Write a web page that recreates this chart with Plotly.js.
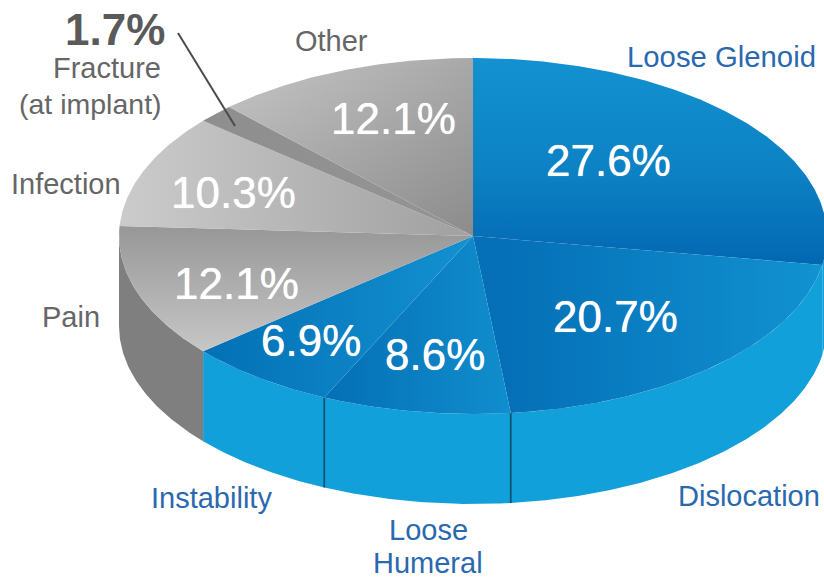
<!DOCTYPE html>
<html>
<head>
<meta charset="utf-8">
<title>Reasons for revision</title>
<script src="https://cdn.plot.ly/plotly-3.0.1.min.js"></script>
<style>html,body{margin:0;padding:0;background:#fff;overflow:hidden}</style>
</head>
<body>
<div id="chart" style="width:824px;height:578px"></div>
<script>
// Share of revisions per cause, clockwise from twelve o'clock
const causes = ["Loose Glenoid", "Dislocation", "Loose Humeral", "Instability", "Pain", "Infection", "Fracture (at implant)", "Other"];
const shares = [27.6, 20.7, 8.6, 6.9, 12.1, 10.3, 1.7, 12.1];

// Tilted disc geometry in page units
const disc = {cx: 473, cy: 236, rx: 354, ry: 178, depth: 90};

const BLUE_WALL = "#12a0da", GREY_WALL = "#7f7f7f";
const wallColors = [BLUE_WALL, BLUE_WALL, BLUE_WALL, BLUE_WALL, GREY_WALL, GREY_WALL, GREY_WALL, GREY_WALL];
const wallSeams = ["Dislocation", "Loose Humeral"];

// Surface shading for each slice
const shading = [
  {type: "vertical", start: 58, stop: 262, colorscale: [[0, "#1391d0"], [0.55, "#0c82c4"], [1, "#0368b2"]]},
  {type: "horizontal", start: 510, stop: 822, colorscale: [[0, "#0570b7"], [1, "#1192d1"]]},
  {type: "horizontal", start: 325, stop: 512, colorscale: [[0, "#056fb6"], [1, "#108ecd"]]},
  {type: "horizontal", start: 203, stop: 473, colorscale: [[0, "#0370b6"], [1, "#1391d0"]]},
  {type: "vertical", start: 226, stop: 350, colorscale: [[0, "#979797"], [1, "#c6c6c6"]]},
  {type: "horizontal", start: 120, stop: 473, colorscale: [[0, "#cbcbcb"], [1, "#a0a0a0"]]},
  {type: "horizontal", start: 205, stop: 473, colorscale: [[0, "#8e8e8e"], [1, "#959595"]]},
  {type: "horizontal", start: 226, stop: 473, colorscale: [[0, "#c6c6c6"], [1, "#a8a8a8"]]}
];
// Extra darkening toward the hub on the last slice
const otherFalloff = {type: "vertical", start: 60, stop: 236, colorscale: [[0, "rgba(0,0,0,0)"], [1, "rgba(0,0,0,0.17)"]]};

const toAngle = s => s / 100 * 2 * Math.PI;
const rimX = a => disc.cx + disc.rx * Math.sin(a);
const rimY = a => disc.cy - disc.ry * Math.cos(a);

function arc(a0, a1) {
  const n = Math.max(2, Math.ceil(Math.abs(a1 - a0) / 0.01));
  const pts = [];
  for (let i = 0; i <= n; i++) pts.push(a0 + (a1 - a0) * i / n);
  return pts;
}

const traces = [];
const edges = [];
let running = 0;
shares.forEach(s => { edges.push([running, running + s]); running += s; });

// Outer wall: only the front half of the rim faces the viewer
edges.forEach((e, i) => {
  const a0 = Math.max(toAngle(e[0]), Math.PI / 2);
  const a1 = Math.min(toAngle(e[1]), Math.PI * 1.5);
  if (a1 <= a0) return;
  const top = arc(a0, a1), bottom = arc(a1, a0);
  traces.push({
    type: "scatter", mode: "lines", name: causes[i] + " wall", hoverinfo: "skip",
    x: top.map(rimX).concat(bottom.map(rimX)),
    y: top.map(rimY).concat(bottom.map(a => rimY(a) + disc.depth)),
    fill: "toself", fillcolor: wallColors[i], line: {width: 0}
  });
});

// Seams between neighbouring wall segments
edges.forEach((e, i) => {
  if (!wallSeams.includes(causes[i])) return;
  const a = toAngle(e[1]);
  traces.push({
    type: "scatter", mode: "lines", hoverinfo: "skip",
    x: [rimX(a), rimX(a)], y: [rimY(a), rimY(a) + disc.depth],
    line: {color: "#0b5570", width: 1.8}
  });
});

// Top surface of the disc
edges.forEach((e, i) => {
  const pts = arc(toAngle(e[0]), toAngle(e[1]));
  const x = [disc.cx].concat(pts.map(rimX), [disc.cx]);
  const y = [disc.cy].concat(pts.map(rimY), [disc.cy]);
  traces.push({
    type: "scatter", mode: "lines", name: causes[i], x, y,
    fill: "toself", fillgradient: shading[i], line: {width: 0},
    hoveron: "fills", text: causes[i] + ": " + shares[i].toFixed(1) + "%", hoverinfo: "text"
  });
  if (causes[i] === "Other") {
    traces.push({type: "scatter", mode: "lines", hoverinfo: "skip", x, y,
      fill: "toself", fillgradient: otherFalloff, line: {width: 0}});
  }
});

const WHITE = "#ffffff", BLUE_TEXT = "#2a68b0", GREY_TEXT = "#666666";
const LABEL_FONT = "Liberation Sans, Arial, sans-serif";

function note(text, x, y, size, color, opts) {
  return Object.assign({
    text, x, y, xref: "x", yref: "y", showarrow: false,
    xanchor: "center", yanchor: "middle",
    font: {family: LABEL_FONT, size, color}
  }, opts || {});
}
const pct = i => shares[i].toFixed(1) + "%";
const valueNote = (i, x, y) => note(pct(i), x, y, 44, WHITE,
  {font: {family: LABEL_FONT, size: 44, color: WHITE, shadow: "0 0 0.7px #ffffff"}});

const annotations = [
  valueNote(0, 608, 160), valueNote(1, 615, 316), valueNote(2, 435, 354), valueNote(3, 311, 340),
  valueNote(4, 236, 283), valueNote(5, 233, 192), valueNote(7, 393, 118),
  note("Loose Glenoid", 721, 56, 29.3, BLUE_TEXT),
  note("Dislocation", 749, 496, 29, BLUE_TEXT),
  note("Loose", 428, 530, 29, BLUE_TEXT),
  note("Humeral", 428, 563, 29, BLUE_TEXT),
  note("Instability", 211, 498, 29, BLUE_TEXT),
  note("Pain", 71, 317, 29, GREY_TEXT),
  note("Infection", 66, 184, 29, GREY_TEXT),
  note("Other", 331, 41, 29, GREY_TEXT),
  note(pct(6), 167, 29, 44, "#5a5a5a", {xanchor: "right", font: {family: LABEL_FONT, size: 44, color: "#5a5a5a", weight: 700}}),
  note("Fracture", 163, 68, 29, GREY_TEXT, {xanchor: "right"}),
  note("(at implant)", 164, 104, 28.5, GREY_TEXT, {xanchor: "right"})
];

const layout = {
  width: 824, height: 578,
  margin: {l: 0, r: 0, t: 0, b: 0},
  paper_bgcolor: "#ffffff", plot_bgcolor: "#ffffff",
  showlegend: false,
  xaxis: {range: [0, 824], visible: false, fixedrange: true},
  yaxis: {range: [578, 0], visible: false, fixedrange: true},
  annotations,
  // Leader from the fracture callout into its thin slice
  shapes: [{type: "line", xref: "x", yref: "y", x0: 178, y0: 33, x1: 235, y1: 126, line: {color: "#4a4a4a", width: 2}}]
};

Plotly.newPlot("chart", traces, layout, {displayModeBar: false});
</script>
</body>
</html>
